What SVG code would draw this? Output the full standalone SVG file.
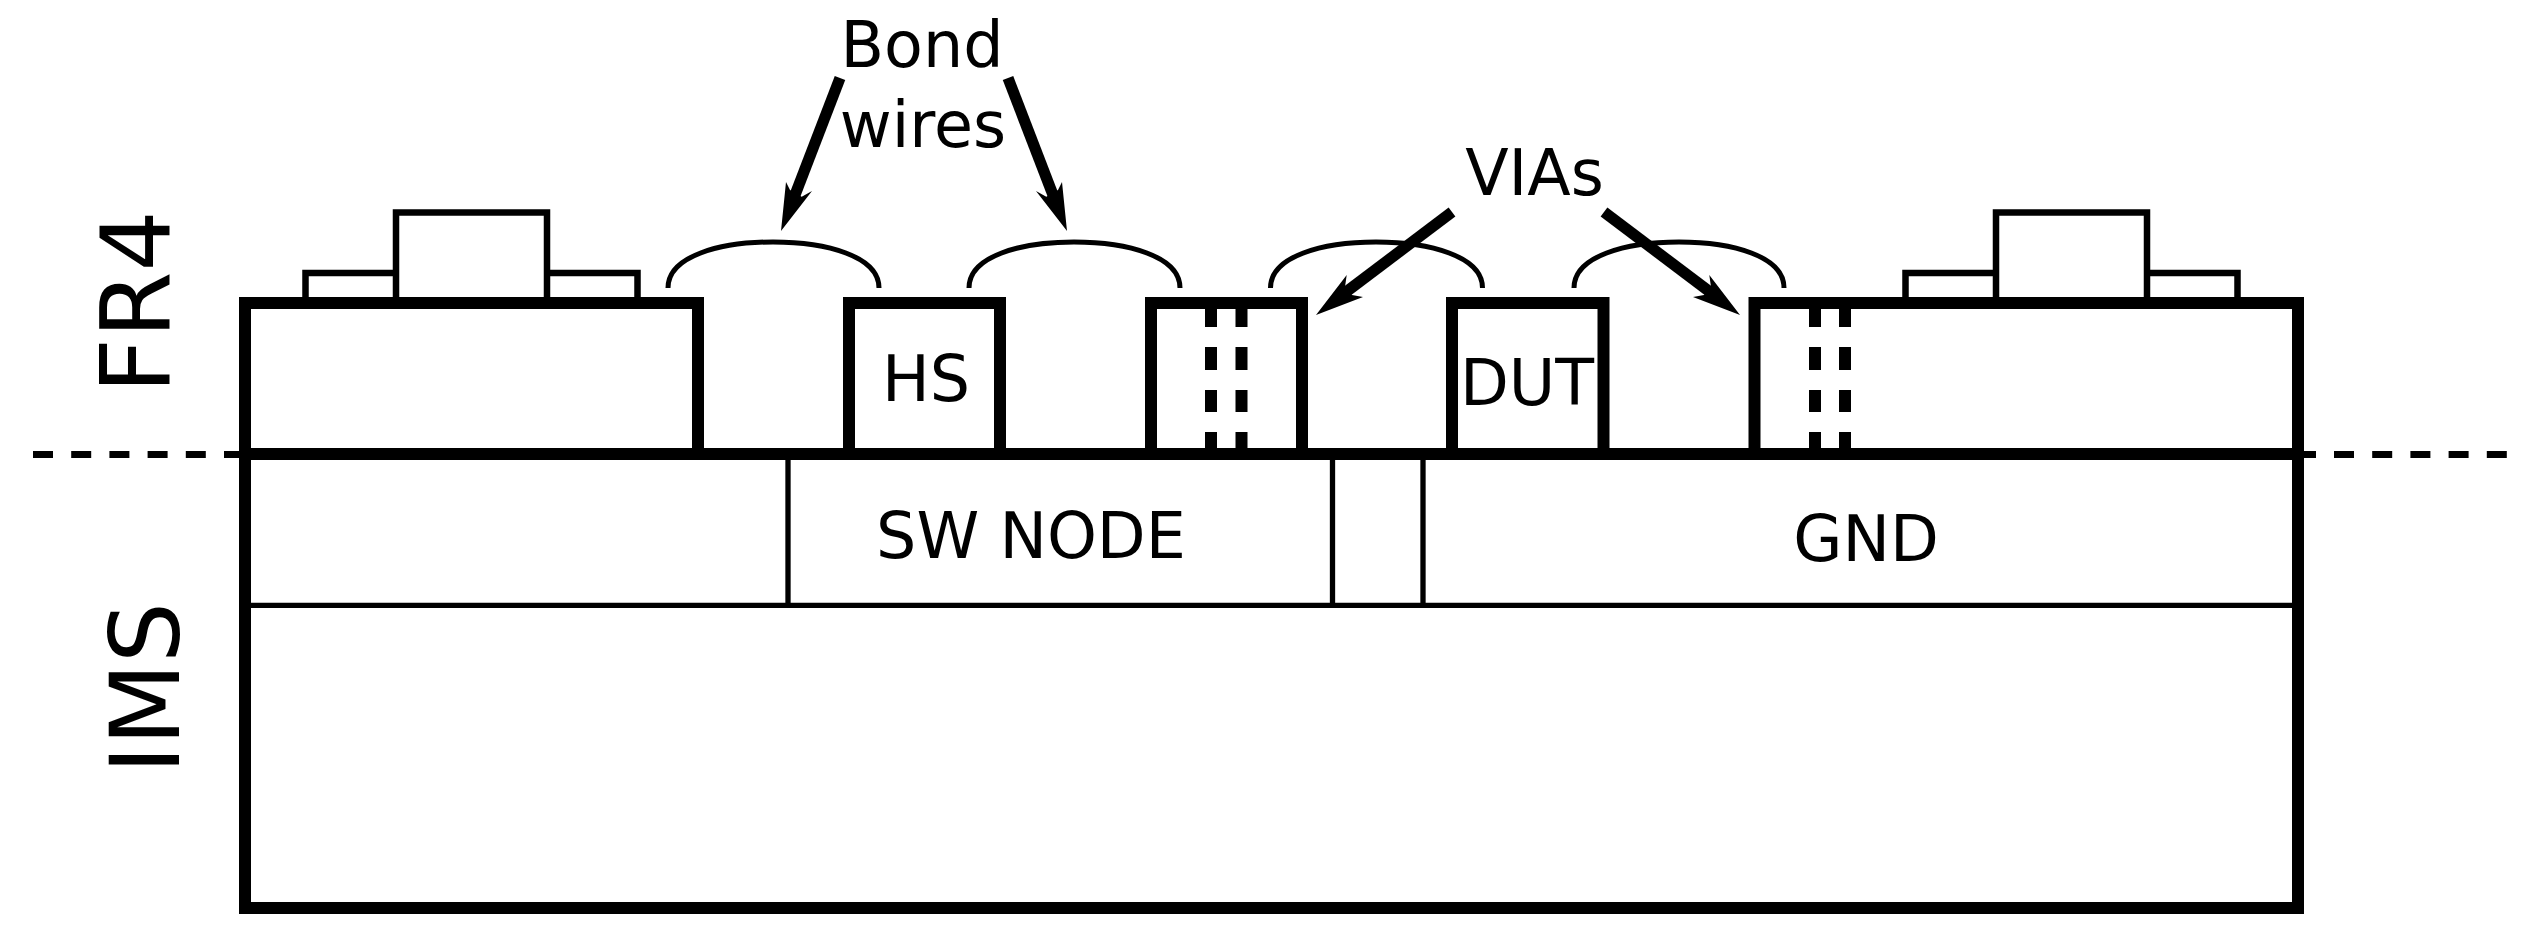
<svg xmlns="http://www.w3.org/2000/svg" width="2525" height="932" viewBox="0 0 2525 932">
<style>
text{font-family:"DejaVu Sans",sans-serif;font-size:63.500px;fill:#000;text-anchor:middle}
.big{font-size:96px}
.thick{fill:none;stroke:#000;stroke-width:12}
.thin{fill:none;stroke:#000;stroke-width:5.300}
.part{fill:none;stroke:#000;stroke-width:6.500}
.wire{fill:none;stroke:#000;stroke-width:5}
.via{fill:none;stroke:#000;stroke-width:12}
.dash{fill:none;stroke:#000;stroke-width:7;stroke-dasharray:20 18.200}
.arr{fill:none;stroke:#000;stroke-width:11.200}
</style>
<rect width="2525" height="932" fill="#fff"/>
<g id="ims">
<path class="thin" d="M245 605.300H2298M788 454V605M1332.500 454V605M1423 454V605"/>
<rect class="thick" x="245" y="454" width="2053" height="454"/>
<text class="big" transform="translate(178.500 688) rotate(-90)">IMS</text>
</g>
<g id="sw-node"><text x="1031" y="558">SW NODE</text></g>
<g id="gnd"><text x="1866" y="561">GND</text></g>
<g id="fr4-label"><text class="big" transform="translate(170 302) rotate(-90)">FR4</text></g>
<g id="block-left">
<rect class="thick" x="245" y="303" width="453" height="151"/>
<path class="part" d="M305.500 298V273H396M547 273H637.500V298M396 298V212.500H547V298"/>
</g>
<g id="block-hs">
<rect class="thick" x="849" y="303" width="151" height="151"/>
<text x="926" y="401.300">HS</text>
</g>
<g id="block-via">
<rect class="thick" x="1151" y="303" width="151" height="151"/>
<path class="via" d="M1211 304V327M1211 347V370M1211 390V412M1211 432V454M1241.500 304V327M1241.500 347V370M1241.500 390V412M1241.500 432V454"/>
</g>
<g id="block-dut">
<rect class="thick" x="1452" y="303" width="151.500" height="151"/>
<text x="1527" y="405">DUT</text>
</g>
<g id="block-right">
<rect class="thick" x="1754.500" y="303" width="543.500" height="151"/>
<path class="via" d="M1815 304V327M1815 347V370M1815 390V412M1815 432V454M1845 304V327M1845 347V370M1845 390V412M1845 432V454"/>
<path class="part" d="M1905.500 298V273H1996M2147 273H2237.500V298M1996 298V212.500H2147V298"/>
</g>
<g id="divider">
<path class="dash" d="M33 454.500H239"/>
<path class="dash" d="M2334 454.500H2507"/>
<path class="dash" style="stroke-dasharray:none" d="M2304 454.500H2316"/>
</g>
<g id="wires">
<path id="wire1" class="wire" d="M668 288C668 256 720 242 773 242C826 242 879 256 879 288"/>
<path id="wire2" class="wire" d="M969 288C969 256 1021 242 1074 242C1127 242 1180 256 1180 288"/>
<path id="wire3" class="wire" d="M1270.500 288C1270.500 256 1323 242 1376 242C1429 242 1482.500 256 1482.500 288"/>
<path id="wire4" class="wire" d="M1574 288C1574 256 1626 242 1679 242C1732 242 1784 256 1784 288"/>
</g>
<g id="labels">
<text x="922" y="67">Bond</text>
<text x="923" y="147">wires</text>
<text x="1534.500" y="194.500">VIAs</text>
</g>
<g id="connectors">
<path class="arr" d="M840 78L790 208"/>
<polygon points="781,231 786,182 790,190 801.700,196.700 812,191"/>
<path class="arr" d="M1008 78L1058 208"/>
<polygon points="1067,231 1062,182 1058,190 1046.300,196.700 1036,191"/>
<path class="arr" d="M1452 212L1340 296.500"/>
<polygon points="1316,315 1346.700,275 1345,287 1352,295 1363,297"/>
<path class="arr" d="M1604 212L1716 296.500"/>
<polygon points="1740,315 1709.300,275 1711,287 1704,295 1693,297"/>
</g>
</svg>
